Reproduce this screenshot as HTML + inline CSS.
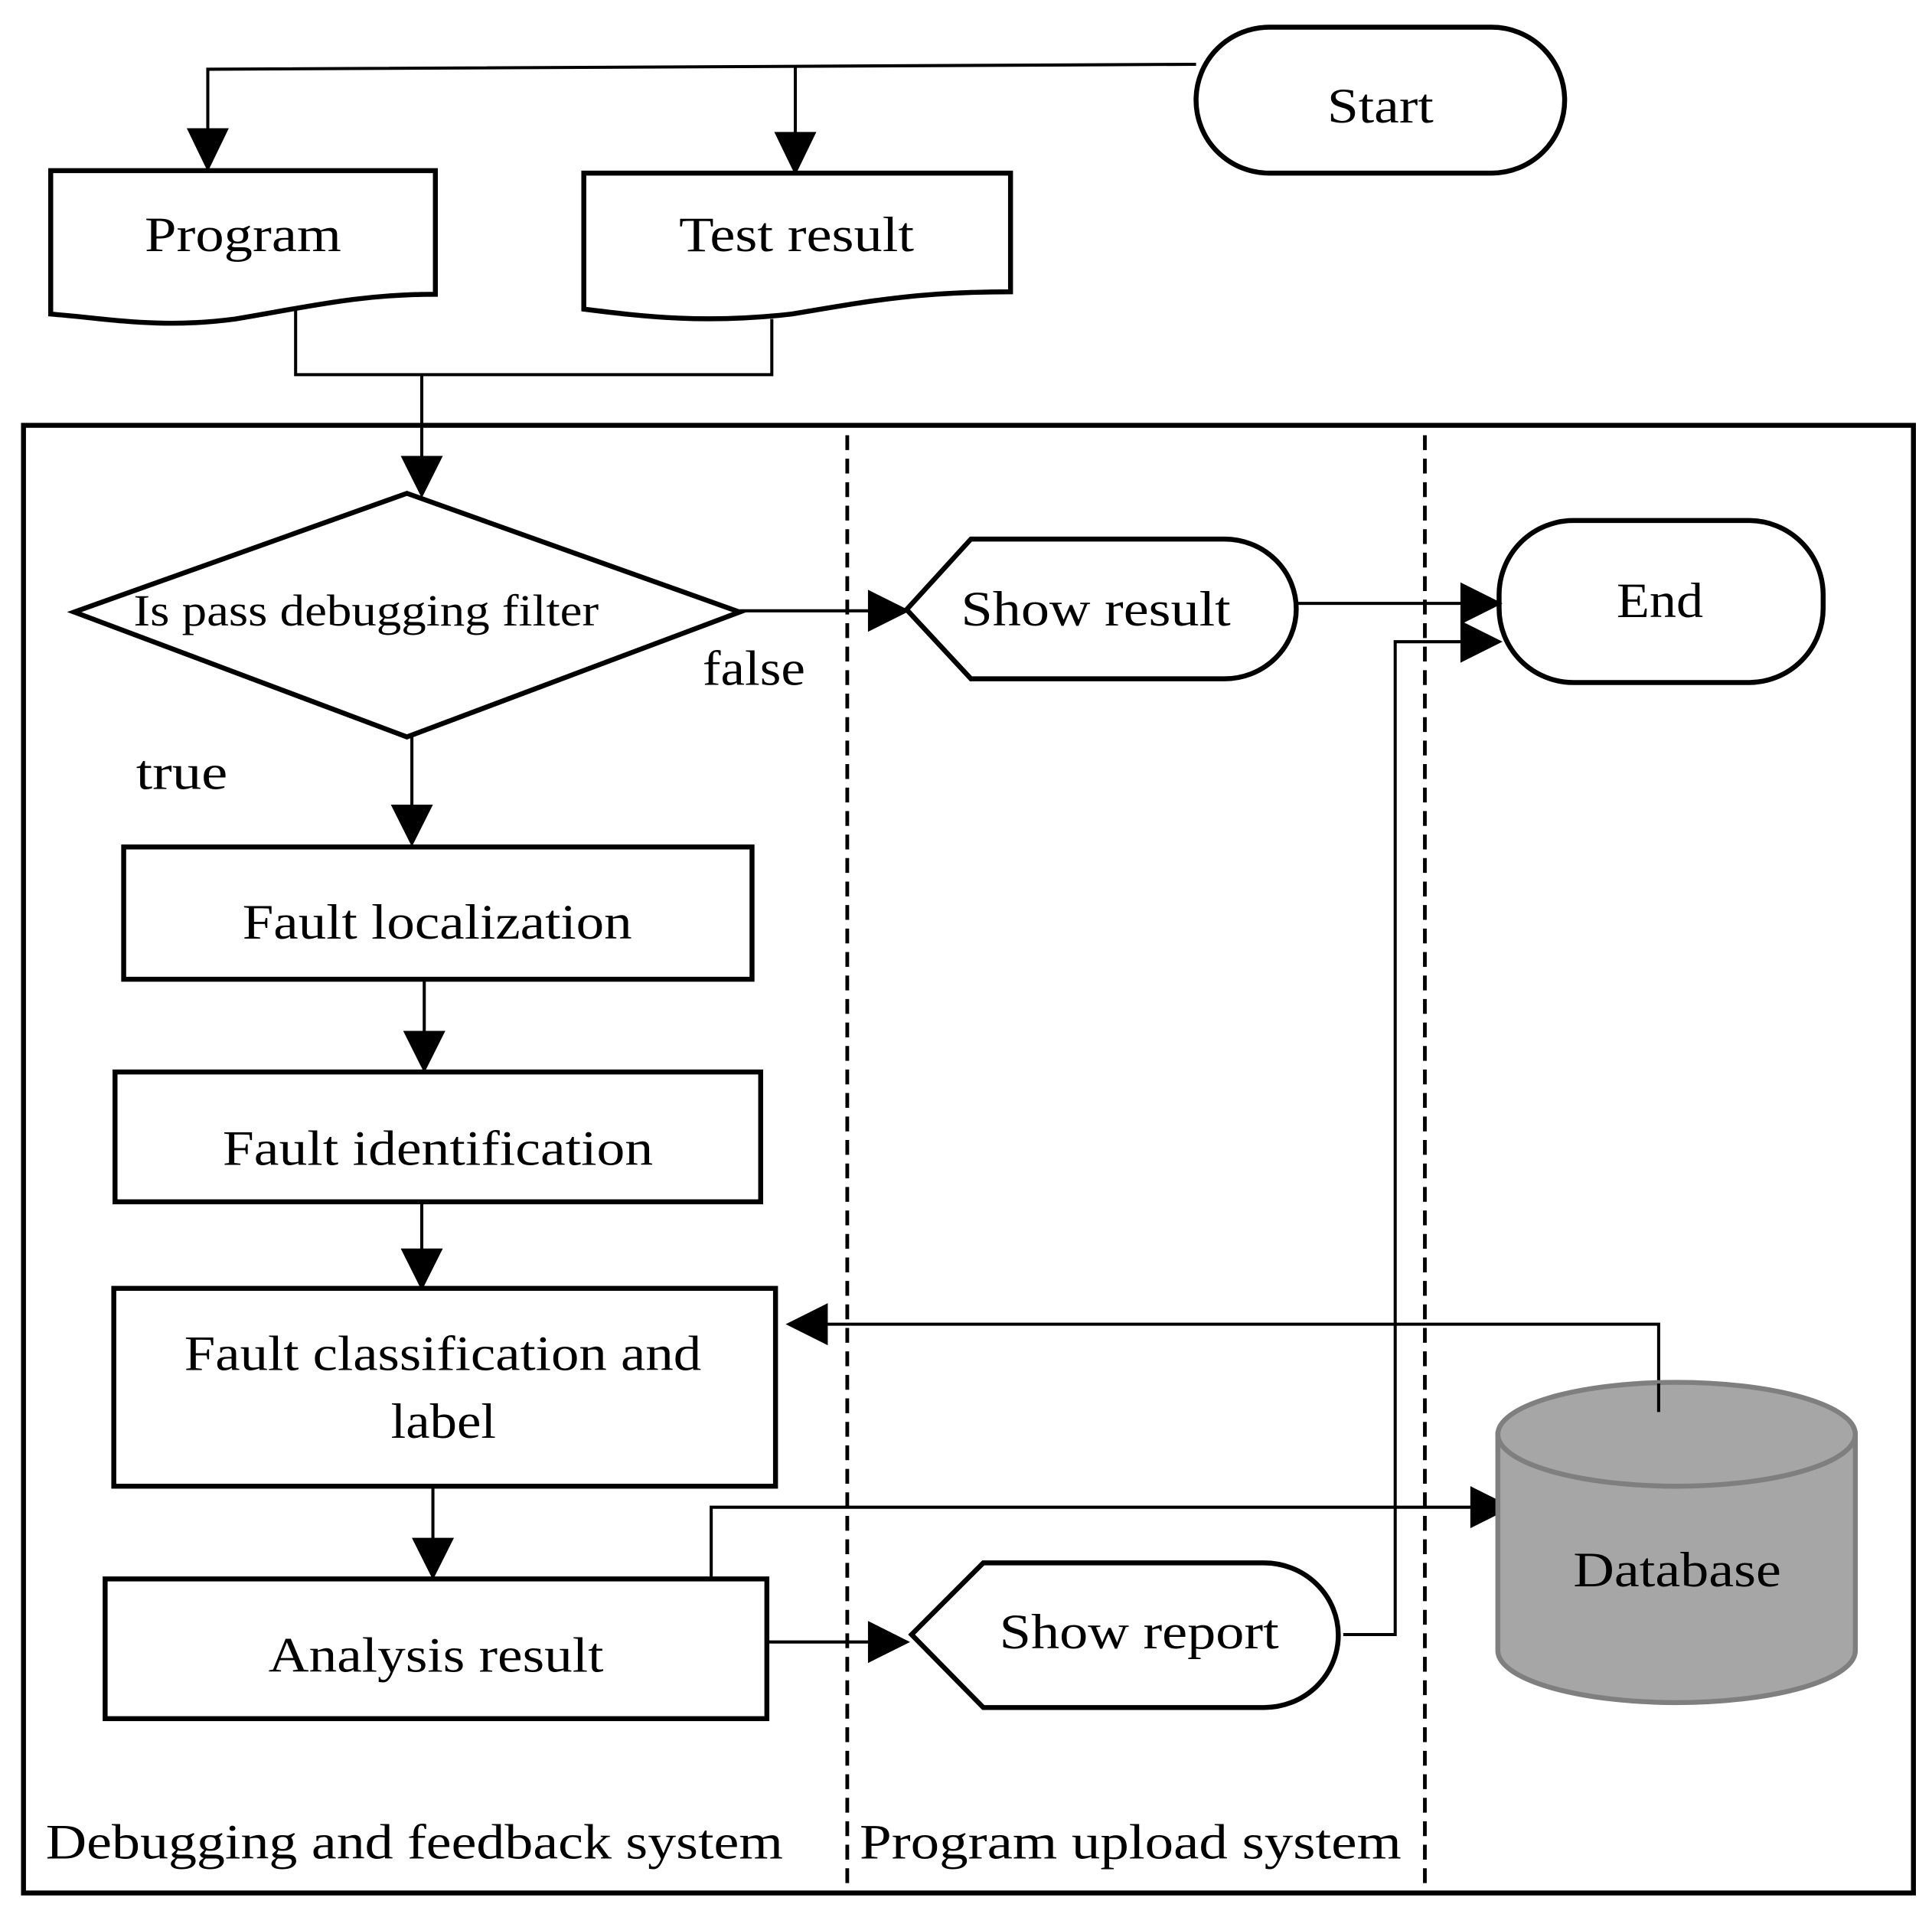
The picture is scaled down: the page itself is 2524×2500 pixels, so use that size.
<!DOCTYPE html>
<html><head><meta charset="utf-8"><style>
html,body{margin:0;padding:0;background:#fff;}
svg{display:block;}
text{font-family:"Liberation Serif",serif;fill:#000;}
</style></head><body>
<svg width="2524" height="2500" viewBox="0 0 1562 1548" preserveAspectRatio="none" xmlns="http://www.w3.org/2000/svg">
<g fill="none" stroke="#000" stroke-width="2.5">
<polyline points="967,52 168,56 168,110"/>
<polygon points="153,105 183,105 168,136" fill="#000"/>
<polyline points="643,54 643,112"/>
<polygon points="628,108 658,108 643,139" fill="#000"/>
<polyline points="239,250 239,303 624,303 624,258"/>
<polyline points="341,303 341,372"/>
<polygon points="326,370 356,370 341,400" fill="#000"/>
<polyline points="598,494 708,494"/>
<polygon points="703,479 733,494 703,509" fill="#000"/>
<polyline points="1048,488 1185,488"/>
<polygon points="1182,473 1212,488 1182,503" fill="#000"/>
<polyline points="333,596 333,655"/>
<polygon points="318,652 348,652 333,682" fill="#000"/>
<polyline points="343,792 343,838"/>
<polygon points="328,835 358,835 343,865" fill="#000"/>
<polyline points="341,972 341,1014"/>
<polygon points="326,1011 356,1011 341,1041" fill="#000"/>
<polyline points="350,1202 350,1248"/>
<polygon points="335,1245 365,1245 350,1275" fill="#000"/>
<polyline points="620,1328 708,1328"/>
<polygon points="703,1313 733,1328 703,1343" fill="#000"/>
<polyline points="1086,1322 1128,1322 1128,519 1185,519"/>
<polygon points="1182,504 1212,519 1182,534" fill="#000"/>
<polyline points="1341,1142 1341,1071 665,1071"/>
<polygon points="668,1056 638,1071 668,1086" fill="#000"/>
<polyline points="575,1277 575,1219 1192,1219"/>
<polygon points="1190,1204 1220,1219 1190,1234" fill="#000"/>
</g>
<g fill="none" stroke="#000" stroke-width="4">
<rect x="967" y="22" width="298" height="118" rx="59"/>
<path d="M41,138 L352,138 L352,238 C290,238 250,248 190,258 C130,266 90,258 41,254 Z"/>
<path d="M472,140 L817,140 L817,236 C740,236 700,244 640,254 C570,262 520,256 472,250 Z"/>
<rect x="19" y="344" width="1528" height="1187"/>
<polygon points="60,495 329,399 598,495 329,596"/>
<path d="M733,493 L785,436 L990,436 A58,56.5 0 0 1 990,549 L785,549 Z"/>
<rect x="1212" y="421" width="262" height="131" rx="60"/>
<rect x="100" y="685" width="508" height="107"/>
<rect x="93" y="867" width="522" height="105"/>
<rect x="92" y="1042" width="535" height="160"/>
<rect x="85" y="1277" width="535" height="113"/>
<path d="M737,1322 L795,1264 L1022,1264 A60,58.5 0 0 1 1022,1381 L795,1381 Z"/>
</g>
<g stroke="#000" stroke-width="3" stroke-dasharray="12,7">
<line x1="685" y1="352" x2="685" y2="1531"/>
<line x1="1152" y1="352" x2="1152" y2="1531"/>
</g>
<g stroke="#7f7f7f" stroke-width="4" fill="#a6a6a6">
<path d="M1211,1160 L1211,1335 A144.5,42 0 0 0 1500,1335 L1500,1160 Z"/>
<ellipse cx="1355.5" cy="1160" rx="144.5" ry="42"/>
</g>
<line x1="1341" y1="1142" x2="1341" y2="1119" stroke="#000" stroke-width="2.5"/>
<g font-size="40" lengthAdjust="spacingAndGlyphs">
<text x="1073" y="99" textLength="86" lengthAdjust="spacingAndGlyphs">Start</text>
<text x="117" y="203" textLength="159" lengthAdjust="spacingAndGlyphs">Program</text>
<text x="549" y="203" textLength="190" lengthAdjust="spacingAndGlyphs">Test result</text>
<text x="108" y="506" font-size="36" textLength="376" lengthAdjust="spacingAndGlyphs">Is pass debugging filter</text>
<text x="777" y="506" textLength="218" lengthAdjust="spacingAndGlyphs">Show result</text>
<text x="1307" y="499" textLength="70" lengthAdjust="spacingAndGlyphs">End</text>
<text x="568" y="554" textLength="83" lengthAdjust="spacingAndGlyphs">false</text>
<text x="110" y="638" textLength="74" lengthAdjust="spacingAndGlyphs">true</text>
<text x="196" y="759" textLength="315" lengthAdjust="spacingAndGlyphs">Fault localization</text>
<text x="180" y="942" textLength="348" lengthAdjust="spacingAndGlyphs">Fault identification</text>
<text x="149" y="1108" textLength="418" lengthAdjust="spacingAndGlyphs">Fault classification and</text>
<text x="316" y="1163" textLength="85" lengthAdjust="spacingAndGlyphs">label</text>
<text x="217" y="1352" textLength="271" lengthAdjust="spacingAndGlyphs">Analysis result</text>
<text x="808" y="1333" textLength="226" lengthAdjust="spacingAndGlyphs">Show report</text>
<text x="1272" y="1283" textLength="168" lengthAdjust="spacingAndGlyphs">Database</text>
<text x="37" y="1503" textLength="596" lengthAdjust="spacingAndGlyphs">Debugging and feedback system</text>
<text x="695" y="1503" textLength="438" lengthAdjust="spacingAndGlyphs">Program upload system</text>
</g>
</svg>
</body></html>
